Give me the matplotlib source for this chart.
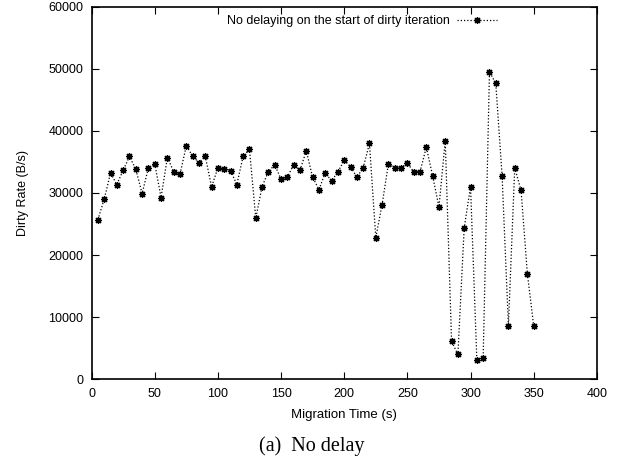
import matplotlib
matplotlib.use("Agg")
import matplotlib.pyplot as plt
import numpy as np

plt.rcParams['font.family'] = ['Liberation Sans', 'DejaVu Sans']

# migration time (s) and dirty rate (B/s), one sample every 5 s
times = np.arange(5, 355, 5)
dirty_rate = [25700, 29000, 33200, 31350, 33660, 35870, 33820, 29900, 34040, 34740,
              29260, 35700, 33450, 33020, 37590, 35920, 34900, 35920, 30970, 34040,
              33900, 33610, 31350, 35920, 37000, 25920, 31030, 33450, 34520, 32210,
              32580, 34520, 33660, 36780, 32530, 30550, 33230, 31940, 33390, 35280,
              34200, 32530, 34040, 37970, 22800, 28130, 34700, 34040, 34040, 34840,
              33390, 33390, 37370, 32750, 27740, 38390, 6080, 3980, 24360, 31030,
              3130, 3340, 49520, 47650, 32750, 8610, 34040, 30440, 17000, 8610]

xticks = [0, 50, 100, 150, 200, 250, 300, 350, 400]
yticks = [0, 10000, 20000, 30000, 40000, 50000, 60000]

fig = plt.figure(figsize=(6.23, 4.61), dpi=100)
ax = fig.add_axes([0.147, 0.1775, 0.811, 0.808])

ax.plot(times, dirty_rate, color='black', linestyle=(0, (1, 1.6)), linewidth=0.9,
        marker=(8, 2, 0), markersize=5, markeredgewidth=0.9,
        label='No delaying on the start of dirty iteration')

ax.set_xlim(0, 400)
ax.set_ylim(0, 60000)
ax.set_xticks(xticks)
ax.set_yticks(yticks)
ax.tick_params(direction='in', length=5, width=0.8, top=True, right=True,
               labelsize=9, colors='black', pad=6)
for s in ax.spines.values():
    s.set_linewidth(1.2)

ax.set_xlabel('Migration Time (s)', fontsize=9.5, labelpad=7)
ax.set_ylabel('Dirty Rate (B/s)', fontsize=9, labelpad=14)

ax.legend(loc='upper right', bbox_to_anchor=(0.82, 1.0), frameon=False,
          markerfirst=False, fontsize=9, handlelength=3.2, handletextpad=0.6,
          borderaxespad=0.3)

fig.text(0.5, 0.033, '(a)  No delay', ha='center', va='center', fontsize=14.5,
         family=['Liberation Serif', 'DejaVu Serif'])

fig.savefig('out.png', dpi=100)
